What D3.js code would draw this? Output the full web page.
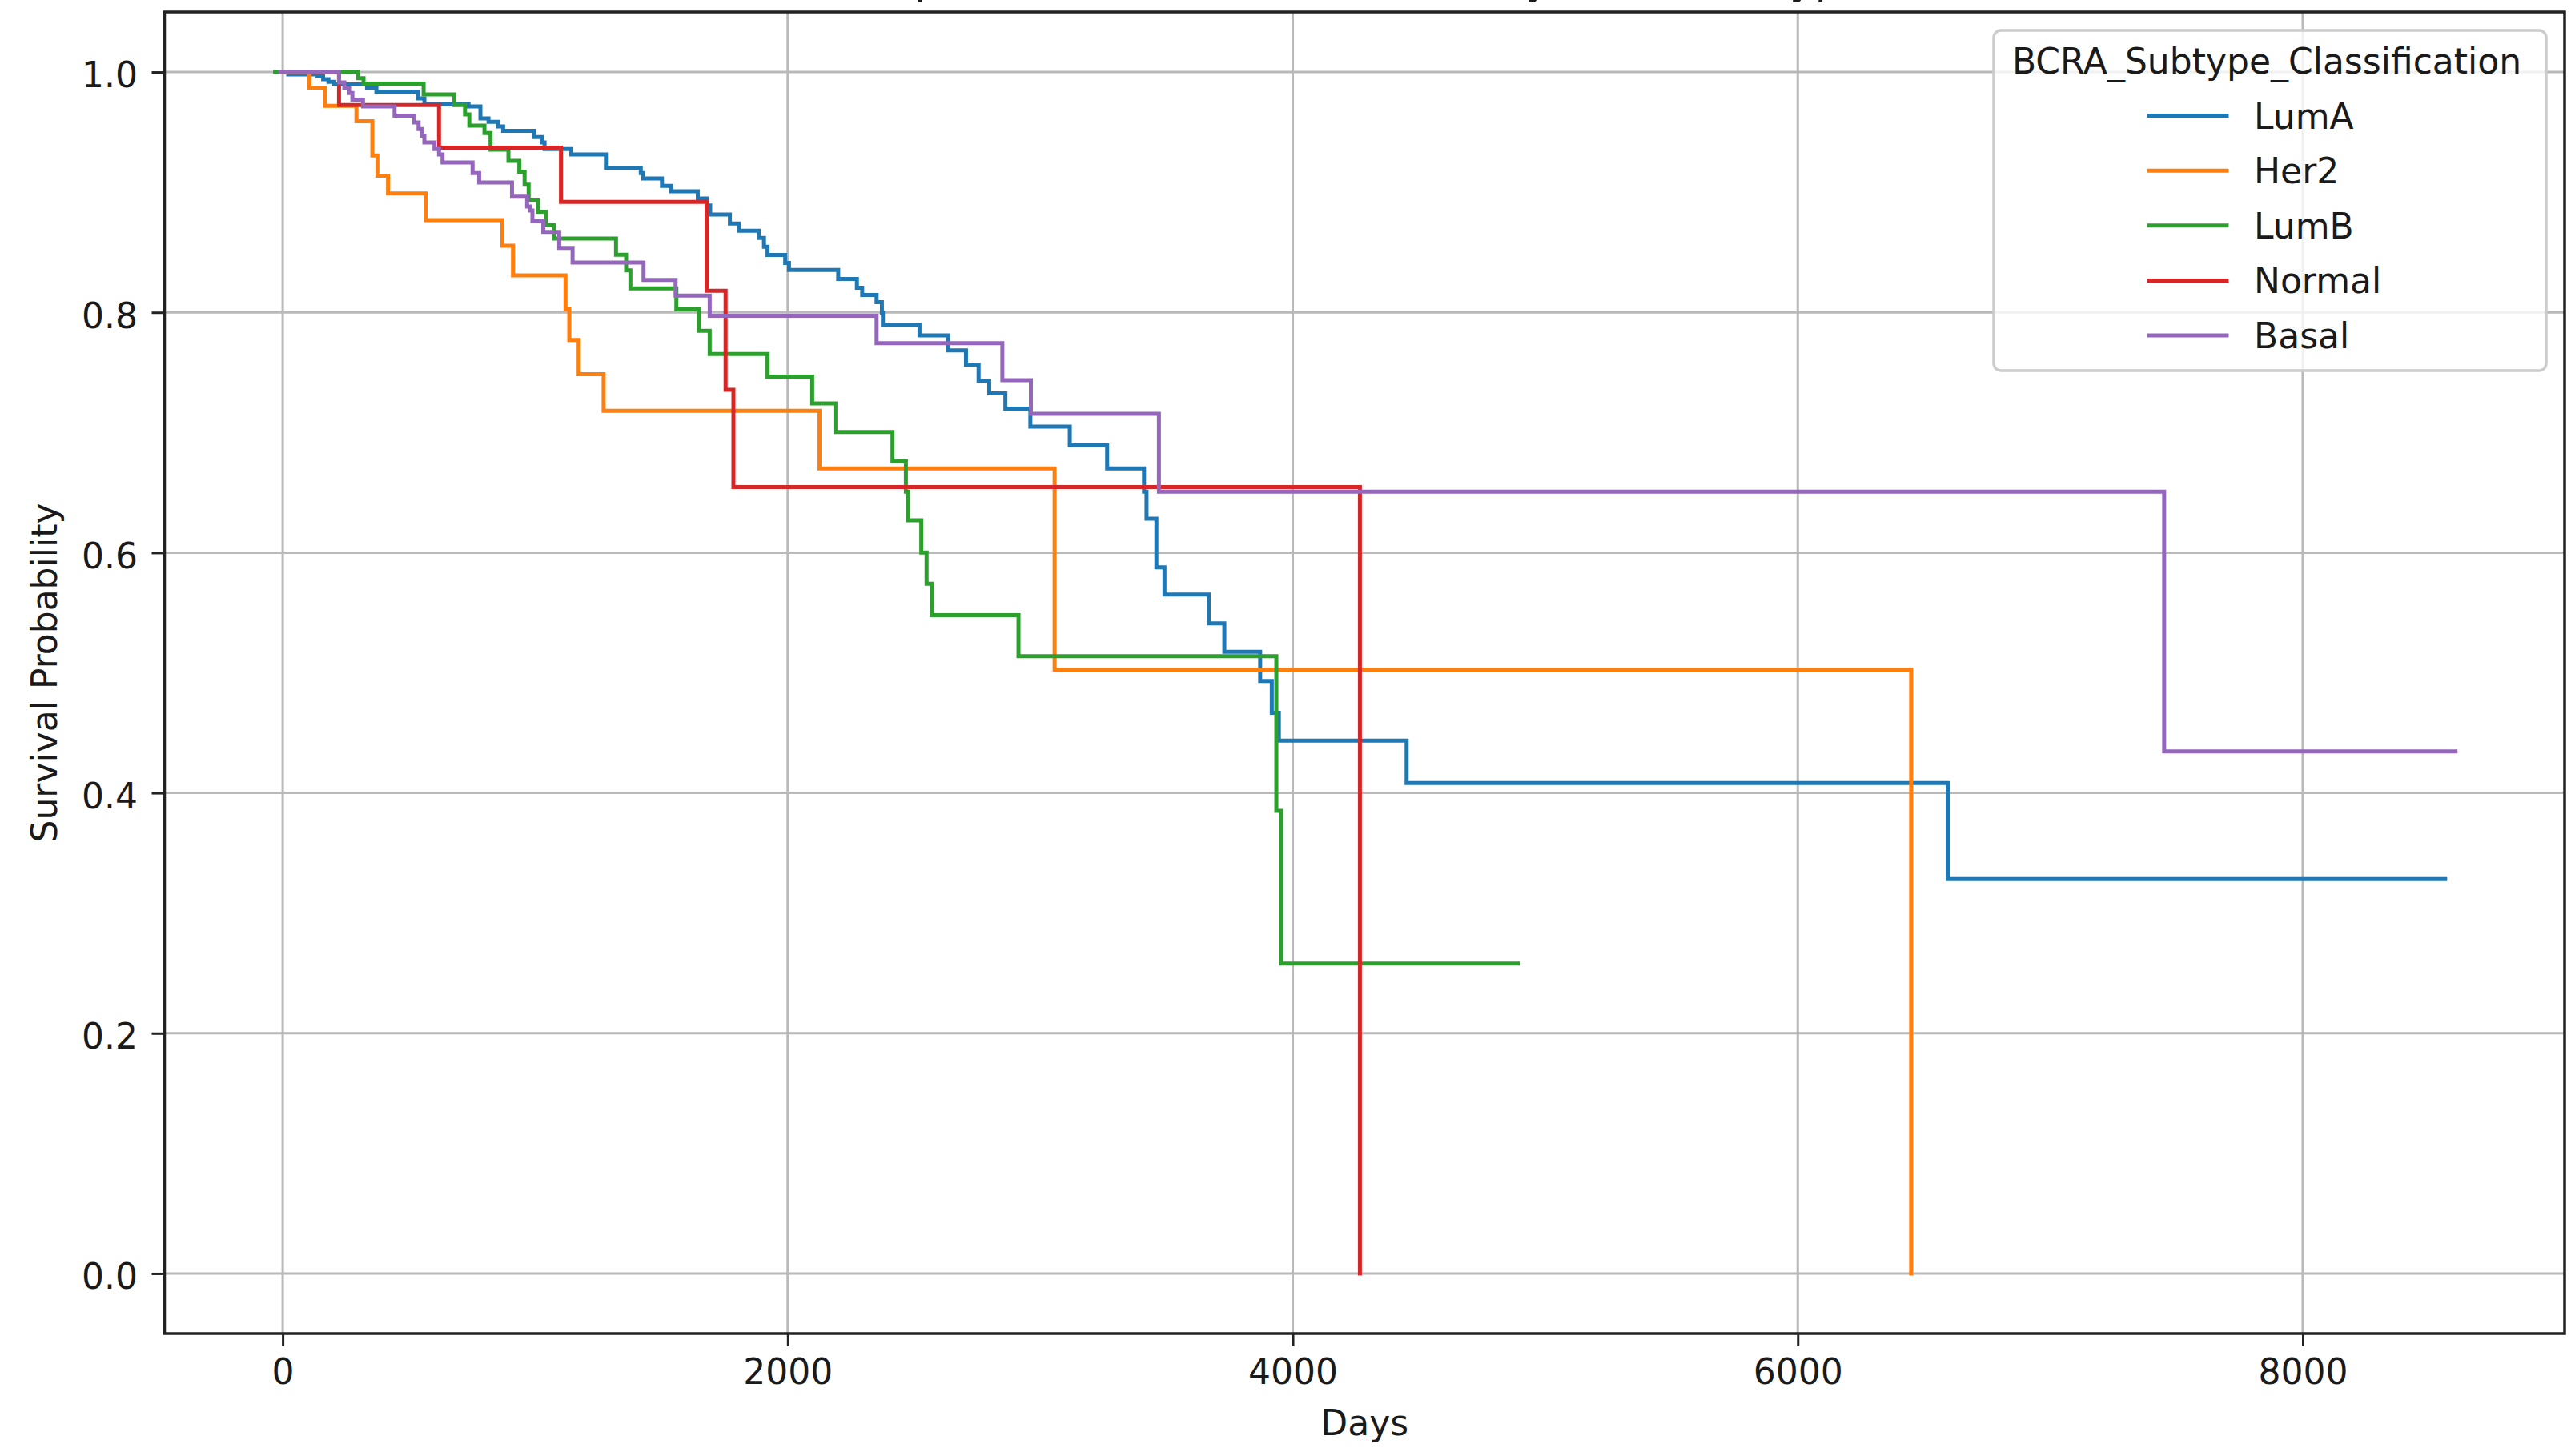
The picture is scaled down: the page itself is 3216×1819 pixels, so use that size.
<!DOCTYPE html>
<html>
<head>
<meta charset="utf-8">
<script src="https://cdn.jsdelivr.net/npm/d3@7"></script>
<style>
  html, body { margin: 0; padding: 0; background: #ffffff; }
  svg { display: block; }
  text { font-family: "DejaVu Sans", sans-serif; fill: #1a1a1a; }
</style>
</head>
<body>
<svg id="chart" width="3216" height="1819"></svg>
<script>
// ---------------- DATA ----------------
const subtypes = ["LumA", "Her2", "LumB", "Normal", "Basal"];
const seriesColors = ["#1f77b4", "#ff7f0e", "#2ca02c", "#d62728", "#9467bd"];

const lumADays = [0, 22, 138, 160, 181, 204, 334, 371, 535, 561, 736, 783, 815, 852, 873, 995, 1026, 1037, 1143, 1280, 1418, 1428, 1502, 1538, 1644, 1679, 1693, 1771, 1807, 1885, 1906, 1920, 1990, 2005, 2200, 2274, 2295, 2352, 2373, 2377, 2522, 2635, 2706, 2756, 2798, 2862, 2961, 3117, 3265, 3411, 3421, 3460, 3492, 3667, 3729, 3871, 3917, 3945, 4451, 6594, 8564];
const lumASurv = [1.0, 0.998, 0.9963, 0.994, 0.9919, 0.9897, 0.987, 0.9837, 0.9781, 0.9732, 0.9714, 0.9614, 0.9586, 0.9548, 0.951, 0.9459, 0.9414, 0.9359, 0.9314, 0.9203, 0.9159, 0.9114, 0.9053, 0.9008, 0.8948, 0.8889, 0.8814, 0.874, 0.868, 0.862, 0.8546, 0.8478, 0.8412, 0.8353, 0.8278, 0.8204, 0.8144, 0.8085, 0.7996, 0.7897, 0.7808, 0.7683, 0.7564, 0.743, 0.7326, 0.7198, 0.7049, 0.6894, 0.670, 0.6507, 0.6283, 0.5878, 0.5652, 0.5411, 0.5175, 0.4932, 0.4667, 0.4435, 0.4082, 0.3283, 0.3283];

const her2Days = [0, 106, 167, 292, 355, 375, 417, 566, 870, 912, 1120, 1135, 1172, 1271, 2126, 3057, 6449];
const her2Surv = [1.0, 0.987, 0.9718, 0.959, 0.9305, 0.9137, 0.899, 0.8768, 0.8555, 0.8308, 0.8026, 0.777, 0.7485, 0.718, 0.670, 0.5025, 0.0];

const lumBDays = [-30, 299, 320, 558, 680, 722, 739, 799, 823, 894, 937, 958, 974, 1011, 1042, 1074, 1320, 1360, 1377, 1559, 1648, 1691, 1920, 2097, 2189, 2415, 2468, 2476, 2529, 2550, 2571, 2914, 3935, 3954, 4892];
const lumBSurv = [1.0, 0.9948, 0.9903, 0.9814, 0.9726, 0.9648, 0.9554, 0.9492, 0.9354, 0.926, 0.917, 0.907, 0.8937, 0.8837, 0.8726, 0.8615, 0.848, 0.835, 0.820, 0.8025, 0.7847, 0.7653, 0.7466, 0.7242, 0.7004, 0.676, 0.6507, 0.6269, 0.6001, 0.5742, 0.548, 0.5138, 0.385, 0.258, 0.258];

const normalDays = [0, 223, 619, 1102, 1679, 1754, 1785, 4266];
const normalSurv = [1.0, 0.9726, 0.937, 0.8919, 0.818, 0.7355, 0.6546, 0.0];

const basalDays = [-10, 223, 244, 263, 276, 318, 443, 521, 538, 551, 561, 601, 619, 633, 752, 778, 908, 968, 979, 989, 1032, 1095, 1148, 1429, 1556, 1691, 2352, 2850, 2963, 3470, 7451, 8605];
const basalSurv = [1.0, 0.9914, 0.987, 0.9826, 0.977, 0.9714, 0.9637, 0.9581, 0.9526, 0.947, 0.9414, 0.9359, 0.9314, 0.9248, 0.9159, 0.9081, 0.897, 0.8881, 0.8848, 0.8759, 0.867, 0.8537, 0.8415, 0.827, 0.8139, 0.7972, 0.7743, 0.7436, 0.7156, 0.6507, 0.4346, 0.4346];

const xTickValues = [0, 2000, 4000, 6000, 8000];
const yTickValues = [0.0, 0.2, 0.4, 0.6, 0.8, 1.0];

const chartTitle = "Kaplan-Meier Survival Curves by BCRA Subtype";
const xLabel = "Days";
const yLabel = "Survival Probability";
const legendTitle = "BCRA_Subtype_Classification";

// ---------------- LAYOUT ----------------
const plot = { left: 205.5, right: 3203, top: 15, bottom: 1666 };
const fontPx = 44;

const svg = d3.select("#chart");

const x = d3.scaleLinear().domain([-468, 9037]).range([plot.left, plot.right]);
const y = d3.scaleLinear().domain([-0.05, 1.05]).range([plot.bottom, plot.top]);

// background
svg.append("rect").attr("x", 0).attr("y", 0).attr("width", 3216).attr("height", 1819).attr("fill", "#ffffff");

// title (mostly above the visible area, as in the reference)
svg.append("text")
  .attr("x", (plot.left + plot.right) / 2)
  .attr("y", -8.5)
  .attr("text-anchor", "middle")
  .style("font-size", "53px")
  .text(chartTitle);

// grid
const grid = svg.append("g").attr("class", "grid");
grid.selectAll("line.gx").data(xTickValues).join("line")
  .attr("class", "gx")
  .attr("x1", d => x(d)).attr("x2", d => x(d))
  .attr("y1", plot.top).attr("y2", plot.bottom)
  .attr("stroke", "#b9b9b9").attr("stroke-width", 3);
grid.selectAll("line.gy").data(yTickValues).join("line")
  .attr("class", "gy")
  .attr("x1", plot.left).attr("x2", plot.right)
  .attr("y1", d => y(d)).attr("y2", d => y(d))
  .attr("stroke", "#b9b9b9").attr("stroke-width", 3);

// clip
svg.append("defs").append("clipPath").attr("id", "plotclip")
  .append("rect")
  .attr("x", plot.left).attr("y", plot.top)
  .attr("width", plot.right - plot.left).attr("height", plot.bottom - plot.top);

// curves
const seriesDays = [lumADays, her2Days, lumBDays, normalDays, basalDays];
const seriesSurv = [lumASurv, her2Surv, lumBSurv, normalSurv, basalSurv];
const series = subtypes.map((name, i) => ({
  name,
  color: seriesColors[i],
  points: seriesDays[i].map((t, j) => [t, seriesSurv[i][j]])
}));

const line = d3.line()
  .x(d => x(d[0]))
  .y(d => y(d[1]))
  .curve(d3.curveStepAfter);

svg.append("g").attr("clip-path", "url(#plotclip)")
  .selectAll("path").data(series).join("path")
  .attr("d", d => line(d.points))
  .attr("fill", "none")
  .attr("stroke", d => d.color)
  .attr("stroke-width", 5)
  .attr("stroke-linecap", "square")
  .attr("stroke-linejoin", "miter");

// axes
const xAxis = d3.axisBottom(x)
  .tickValues(xTickValues)
  .tickFormat(d3.format("d"))
  .tickSize(16)
  .tickSizeOuter(0)
  .tickPadding(16);
const gX = svg.append("g").attr("transform", `translate(0,${plot.bottom})`).call(xAxis);
gX.select(".domain").remove();
gX.selectAll(".tick line").attr("stroke", "#222").attr("stroke-width", 3);
gX.selectAll(".tick text").style("font-size", fontPx + "px").style("font-family", "DejaVu Sans").attr("fill", "#1a1a1a");

const yAxis = d3.axisLeft(y)
  .tickValues(yTickValues)
  .tickFormat(d3.format(".1f"))
  .tickSize(16)
  .tickSizeOuter(0)
  .tickPadding(17.5);
const gY = svg.append("g").attr("transform", `translate(${plot.left},0)`).call(yAxis);
gY.select(".domain").remove();
gY.selectAll(".tick line").attr("stroke", "#222").attr("stroke-width", 3);
gY.selectAll(".tick text").style("font-size", fontPx + "px").style("font-family", "DejaVu Sans").attr("fill", "#1a1a1a").attr("dy", "0.43em");

// frame (spines)
svg.append("rect")
  .attr("x", plot.left).attr("y", plot.top)
  .attr("width", plot.right - plot.left).attr("height", plot.bottom - plot.top)
  .attr("fill", "none").attr("stroke", "#222").attr("stroke-width", 3.5);

// axis labels
svg.append("text")
  .attr("x", (plot.left + plot.right) / 2)
  .attr("y", 1793)
  .attr("text-anchor", "middle")
  .style("font-size", fontPx + "px")
  .text(xLabel);

svg.append("text")
  .attr("transform", `translate(71,${(plot.top + plot.bottom) / 2}) rotate(-90)`)
  .attr("text-anchor", "middle")
  .style("font-size", fontPx + "px")
  .text(yLabel);

// legend
const legend = svg.append("g").attr("class", "legend");
legend.append("rect")
  .attr("x", 2490).attr("y", 38)
  .attr("width", 690).attr("height", 425)
  .attr("rx", 9).attr("ry", 9)
  .attr("fill", "#ffffff").attr("fill-opacity", 0.8)
  .attr("stroke", "#cccccc").attr("stroke-width", 3.5);
legend.append("text")
  .attr("x", 2831).attr("y", 92)
  .attr("text-anchor", "middle")
  .style("font-size", fontPx + "px")
  .text(legendTitle);

const rowY = d3.scaleLinear().domain([0, subtypes.length - 1]).range([144.6, 419]);
const items = legend.selectAll("g.item").data(series).join("g").attr("class", "item");
items.append("line")
  .attr("x1", 2684).attr("x2", 2781)
  .attr("y1", (d, i) => rowY(i)).attr("y2", (d, i) => rowY(i))
  .attr("stroke", d => d.color).attr("stroke-width", 5)
  .attr("stroke-linecap", "square");
items.append("text")
  .attr("x", 2815).attr("y", (d, i) => rowY(i) + 16)
  .style("font-size", fontPx + "px")
  .text(d => d.name);
</script>
</body>
</html>
